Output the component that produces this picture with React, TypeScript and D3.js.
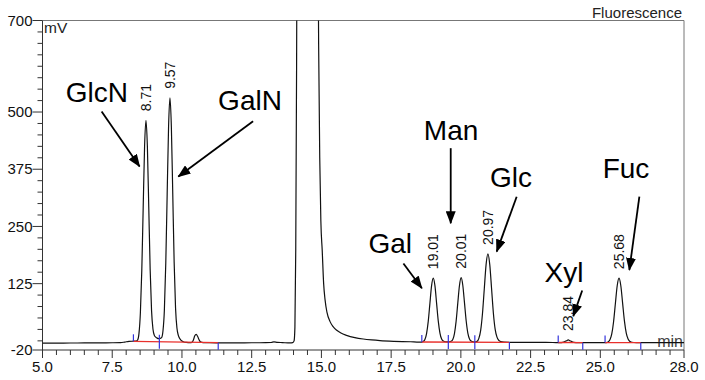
import React from "react";
import * as d3 from "d3";

// ---------- data ----------
const xMajorTicks = [5, 7.5, 10, 12.5, 15, 17.5, 20, 22.5, 25, 28];
const xTickLabels = ["5.0", "7.5", "10.0", "12.5", "15.0", "17.5", "20.0", "22.5", "25.0", "28.0"];
const yMajorTicks = [-20, 125, 250, 375, 500, 700];
const yTickLabels = ["-20", "125", "250", "375", "500", "700"];

// chromatogram trace: [time (min), signal (mV)]
const trace: [number, number][] = [
  [5.0, -4.8], [5.5, -4.8], [6.0, -4.7], [6.5, -4.6], [7.0, -4.4], [7.5, -4.2], [7.8, -3.8], [7.95, -2.6],
  [8.1, -1.2], [8.25, -0.8], [8.36, -0.6],
  [8.41, 1.8], [8.46, 17], [8.51, 62], [8.56, 154], [8.61, 291], [8.66, 425], [8.71, 482], [8.76, 425],
  [8.81, 292], [8.86, 156], [8.91, 66], [8.96, 26], [9.01, 12], [9.06, 8], [9.11, 6], [9.16, 5],
  [9.22, 5.5], [9.27, 7], [9.32, 22], [9.37, 68], [9.42, 170], [9.47, 321], [9.52, 468], [9.57, 531],
  [9.62, 468], [9.67, 322], [9.72, 172], [9.77, 72], [9.82, 28], [9.87, 12], [9.92, 5], [9.97, 1],
  [10.05, -2], [10.15, -3.5], [10.3, -4],
  [10.36, -3], [10.41, 2], [10.46, 11], [10.51, 14], [10.56, 10], [10.61, 3], [10.66, -2], [10.76, -4],
  [11.0, -4.2], [11.5, -4.3], [12.0, -4.3], [12.5, -4.2], [13.0, -4], [13.2, -3.6], [13.3, -2.2],
  [13.42, -3.3], [13.6, -3.8], [13.87, -4.6], [13.97, -4],
  [14.02, 0], [14.05, 30], [14.08, 200], [14.11, 600], [14.14, 1200], [14.22, 2000], [14.5, 2200],
  [14.8, 2000], [14.86, 1100], [14.9, 650], [14.94, 400], [14.98, 262], [15.03, 196], [15.08, 125],
  [15.13, 90], [15.2, 62], [15.31, 42], [15.42, 31], [15.55, 23], [15.7, 17], [15.9, 12], [16.2, 7],
  [16.5, 4], [16.8, 2], [17.1, 0.5], [17.6, -1], [18.2, -2], [18.5, -2.8],
  [18.59, -2.8], [18.65, -1.4], [18.71, 3], [18.77, 16], [18.83, 42.5], [18.89, 82], [18.95, 120.5],
  [19.01, 137], [19.07, 120.5], [19.13, 82], [19.19, 43], [19.25, 17], [19.31, 4], [19.37, -0.5],
  [19.44, -2], [19.51, -2.2],
  [19.59, -2], [19.65, -1], [19.71, 3], [19.77, 16], [19.83, 43], [19.89, 83], [19.95, 121], [20.01, 138],
  [20.07, 121], [20.13, 83], [20.19, 44], [20.25, 17], [20.31, 4], [20.37, -0.5], [20.44, -2.2], [20.5, -2.5],
  [20.58, -1.2], [20.645, 5.5], [20.71, 23], [20.775, 59.7], [20.84, 114], [20.905, 167], [20.97, 190],
  [21.035, 167], [21.1, 115], [21.165, 61], [21.23, 25], [21.295, 8], [21.36, 1], [21.425, -1.5],
  [21.55, -2.8], [21.8, -3.2],
  [22.2, -3.4], [22.8, -3.5], [23.3, -3.6], [23.55, -3.8], [23.65, -3.3], [23.73, -1.6], [23.79, 0.4],
  [23.85, 2], [23.91, 0.4], [23.97, -1.6], [24.05, -3.2], [24.2, -3.9], [24.6, -4], [25.0, -4],
  [25.215, -3.7], [25.28, -2.4], [25.345, 2.2], [25.41, 15], [25.475, 41.8], [25.54, 81.5], [25.605, 120.4],
  [25.67, 137], [25.735, 120.4], [25.8, 82], [25.865, 43], [25.93, 17], [25.995, 4], [26.06, -1.5],
  [26.125, -3], [26.3, -3.8], [26.6, -4], [27.0, -4], [27.5, -4], [28.0, -4],
];

const peakRT = [8.71, 9.57, 19.01, 20.01, 20.97, 23.84, 25.68];
const peakApex = [482, 531, 137, 138, 190, 2, 137];
const peakLabels = ["8.71", "9.57", "19.01", "20.01", "20.97", "23.84", "25.68"];

const integStart = [8.26, 18.6, 23.49, 25.17];
const integEnd = [11.3, 21.74, 24.37, 26.45];
const integBaseStart = [-1, -2.5, -3.6, -3.7];
const integBaseEnd = [-4, -3.2, -4, -4];
const markerTimes = [8.26, 9.19, 11.3, 18.6, 19.55, 20.5, 21.74, 23.49, 24.37, 25.17, 26.45];
const markerKinds = ["start", "split", "end", "start", "split", "split", "end", "start", "end", "start", "end"];

const compoundNames = ["GlcN", "GalN", "Gal", "Man", "Glc", "Xyl", "Fuc"];

// annotation layout (in data units): label anchor, arrow tail, arrow tip
const annLabelT = [6.95, 12.44, 17.47, 19.65, 21.8, 23.7, 25.92];
const annLabelV = [522, 504, 192, 439, 336, 128, 355];
const annFromT = [7.12, 12.55, 17.94, 19.636, 22.0, 24.35, 26.4];
const annFromV = [501, 480, 169, 421, 315, 110, 315];
const annToT = [8.48, 9.87, 18.6, 19.636, 21.285, 24.03, 26.04];
const annToV = [381, 359, 115, 257, 195, 54, 155];

// ---------- chart ----------
const W = 705;
const H = 380;
const FONT = "'Liberation Sans', Arial, Helvetica, sans-serif";

export default function App() {
  const x = d3.scaleLinear().domain([5, 28]).range([42.5, 684]);
  const y = d3.scaleLinear().domain([-20, 700]).range([350, 20.5]);
  const [x0, x1] = x.range();
  const [yb, yt] = y.range();

  const line = d3
    .line<[number, number]>()
    .x((d) => x(d[0]))
    .y((d) => y(d[1]))
    .curve(d3.curveMonotoneX);

  const minorX = d3.range(5, 28.001, 0.5).filter((t) => !xMajorTicks.some((m) => Math.abs(m - t) < 1e-6));
  const minorY = d3.range(0, 700.001, 25).filter((v) => !yMajorTicks.includes(v));

  const baseAt = (t: number) => {
    for (let i = 0; i < integStart.length; i++) {
      if (t >= integStart[i] - 1e-6 && t <= integEnd[i] + 1e-6) {
        const f = (t - integStart[i]) / (integEnd[i] - integStart[i]);
        return integBaseStart[i] + f * (integBaseEnd[i] - integBaseStart[i]);
      }
    }
    return -4;
  };

  return (
    <svg width={W} height={H} style={{ display: "block", position: "absolute", left: 0, top: 0, background: "#fff" }}>
      <defs>
        <clipPath id="plot">
          <rect x={x0} y={yt} width={x1 - x0} height={yb - yt} />
        </clipPath>
        <marker id="arr" markerUnits="userSpaceOnUse" markerWidth={13} markerHeight={10} refX={12} refY={5} orient="auto">
          <path d="M0,0 L13,5 L0,10 Z" fill="#000" />
        </marker>
      </defs>
      <rect x={0} y={0} width={W} height={H} fill="#fff" />

      {/* frame */}
      <line x1={x0} x2={x1} y1={yt} y2={yt} stroke="#777" strokeWidth={1} />
      <line x1={x1} x2={x1} y1={yt} y2={yb} stroke="#777" strokeWidth={1} />
      <line x1={x0} x2={x0} y1={yt} y2={yb} stroke="#333" strokeWidth={1} />
      <line x1={x0} x2={x1} y1={yb} y2={yb} stroke="#333" strokeWidth={1} />

      {/* y ticks */}
      {minorY.map((v) => (
        <line key={"my" + v} x1={x0 - 5} x2={x0} y1={y(v)} y2={y(v)} stroke="#333" />
      ))}
      {yMajorTicks.map((v, i) => (
        <g key={"Y" + v}>
          <line x1={x0 - 10} x2={x0} y1={y(v)} y2={y(v)} stroke="#333" />
          <text x={x0 - 10} y={y(v)} dy="0.35em" textAnchor="end" fontFamily={FONT} fontSize={15} fill="#111">
            {yTickLabels[i]}
          </text>
        </g>
      ))}

      {/* x ticks */}
      {minorX.map((t) => (
        <line key={"mx" + t} x1={x(t)} x2={x(t)} y1={yb} y2={yb + 5} stroke="#333" />
      ))}
      {xMajorTicks.map((t, i) => (
        <g key={"X" + t}>
          <line x1={x(t)} x2={x(t)} y1={yb} y2={yb + 8} stroke="#333" />
          <text x={x(t)} y={371.5} textAnchor="middle" fontFamily={FONT} fontSize={15} fill="#111">
            {xTickLabels[i]}
          </text>
        </g>
      ))}

      {/* axis titles */}
      <text x={44} y={33.3} fontFamily={FONT} fontSize={15.5} fill="#222">mV</text>
      <text x={682} y={18} textAnchor="end" fontFamily={FONT} fontSize={15} fill="#222">Fluorescence</text>
      <text x={683} y={347} textAnchor="end" fontFamily={FONT} fontSize={16} fill="#444">min</text>

      {/* signal */}
      <g clipPath="url(#plot)">
        <path d={line(trace) || ""} fill="none" stroke="#111" strokeWidth={1.2} />
      </g>

      {/* integration baselines */}
      {integStart.map((s, i) => (
        <line
          key={"ib" + i}
          x1={x(s)}
          x2={x(integEnd[i])}
          y1={y(integBaseStart[i])}
          y2={y(integBaseEnd[i])}
          stroke="#e8302c"
          strokeWidth={1.3}
        />
      ))}
      {markerTimes.map((t, i) => {
        const by = y(baseAt(t));
        const k = markerKinds[i];
        const top = k === "end" ? by : by - 7;
        const bot = k === "start" ? by : by + 7;
        return <line key={"mk" + i} x1={x(t)} x2={x(t)} y1={top} y2={bot} stroke="#3333dd" strokeWidth={1.2} />;
      })}

      {/* retention time labels */}
      {peakRT.map((t, i) => {
        const px = x(t);
        const py = y(peakApex[i]) - 9;
        return (
          <text
            key={"rt" + i}
            transform={`translate(${px},${py}) rotate(-90)`}
            dy="0.36em"
            fontFamily={FONT}
            fontSize={14}
            fill="#111"
          >
            {peakLabels[i]}
          </text>
        );
      })}

      {/* compound annotations */}
      {compoundNames.map((n, i) => (
        <g key={"an" + n}>
          <text x={x(annLabelT[i])} y={y(annLabelV[i])} textAnchor="middle" fontFamily={FONT} fontSize={28} fill="#000">
            {n}
          </text>
          <line
            x1={x(annFromT[i])}
            y1={y(annFromV[i])}
            x2={x(annToT[i])}
            y2={y(annToV[i])}
            stroke="#000"
            strokeWidth={1.8}
            markerEnd="url(#arr)"
          />
        </g>
      ))}
    </svg>
  );
}
